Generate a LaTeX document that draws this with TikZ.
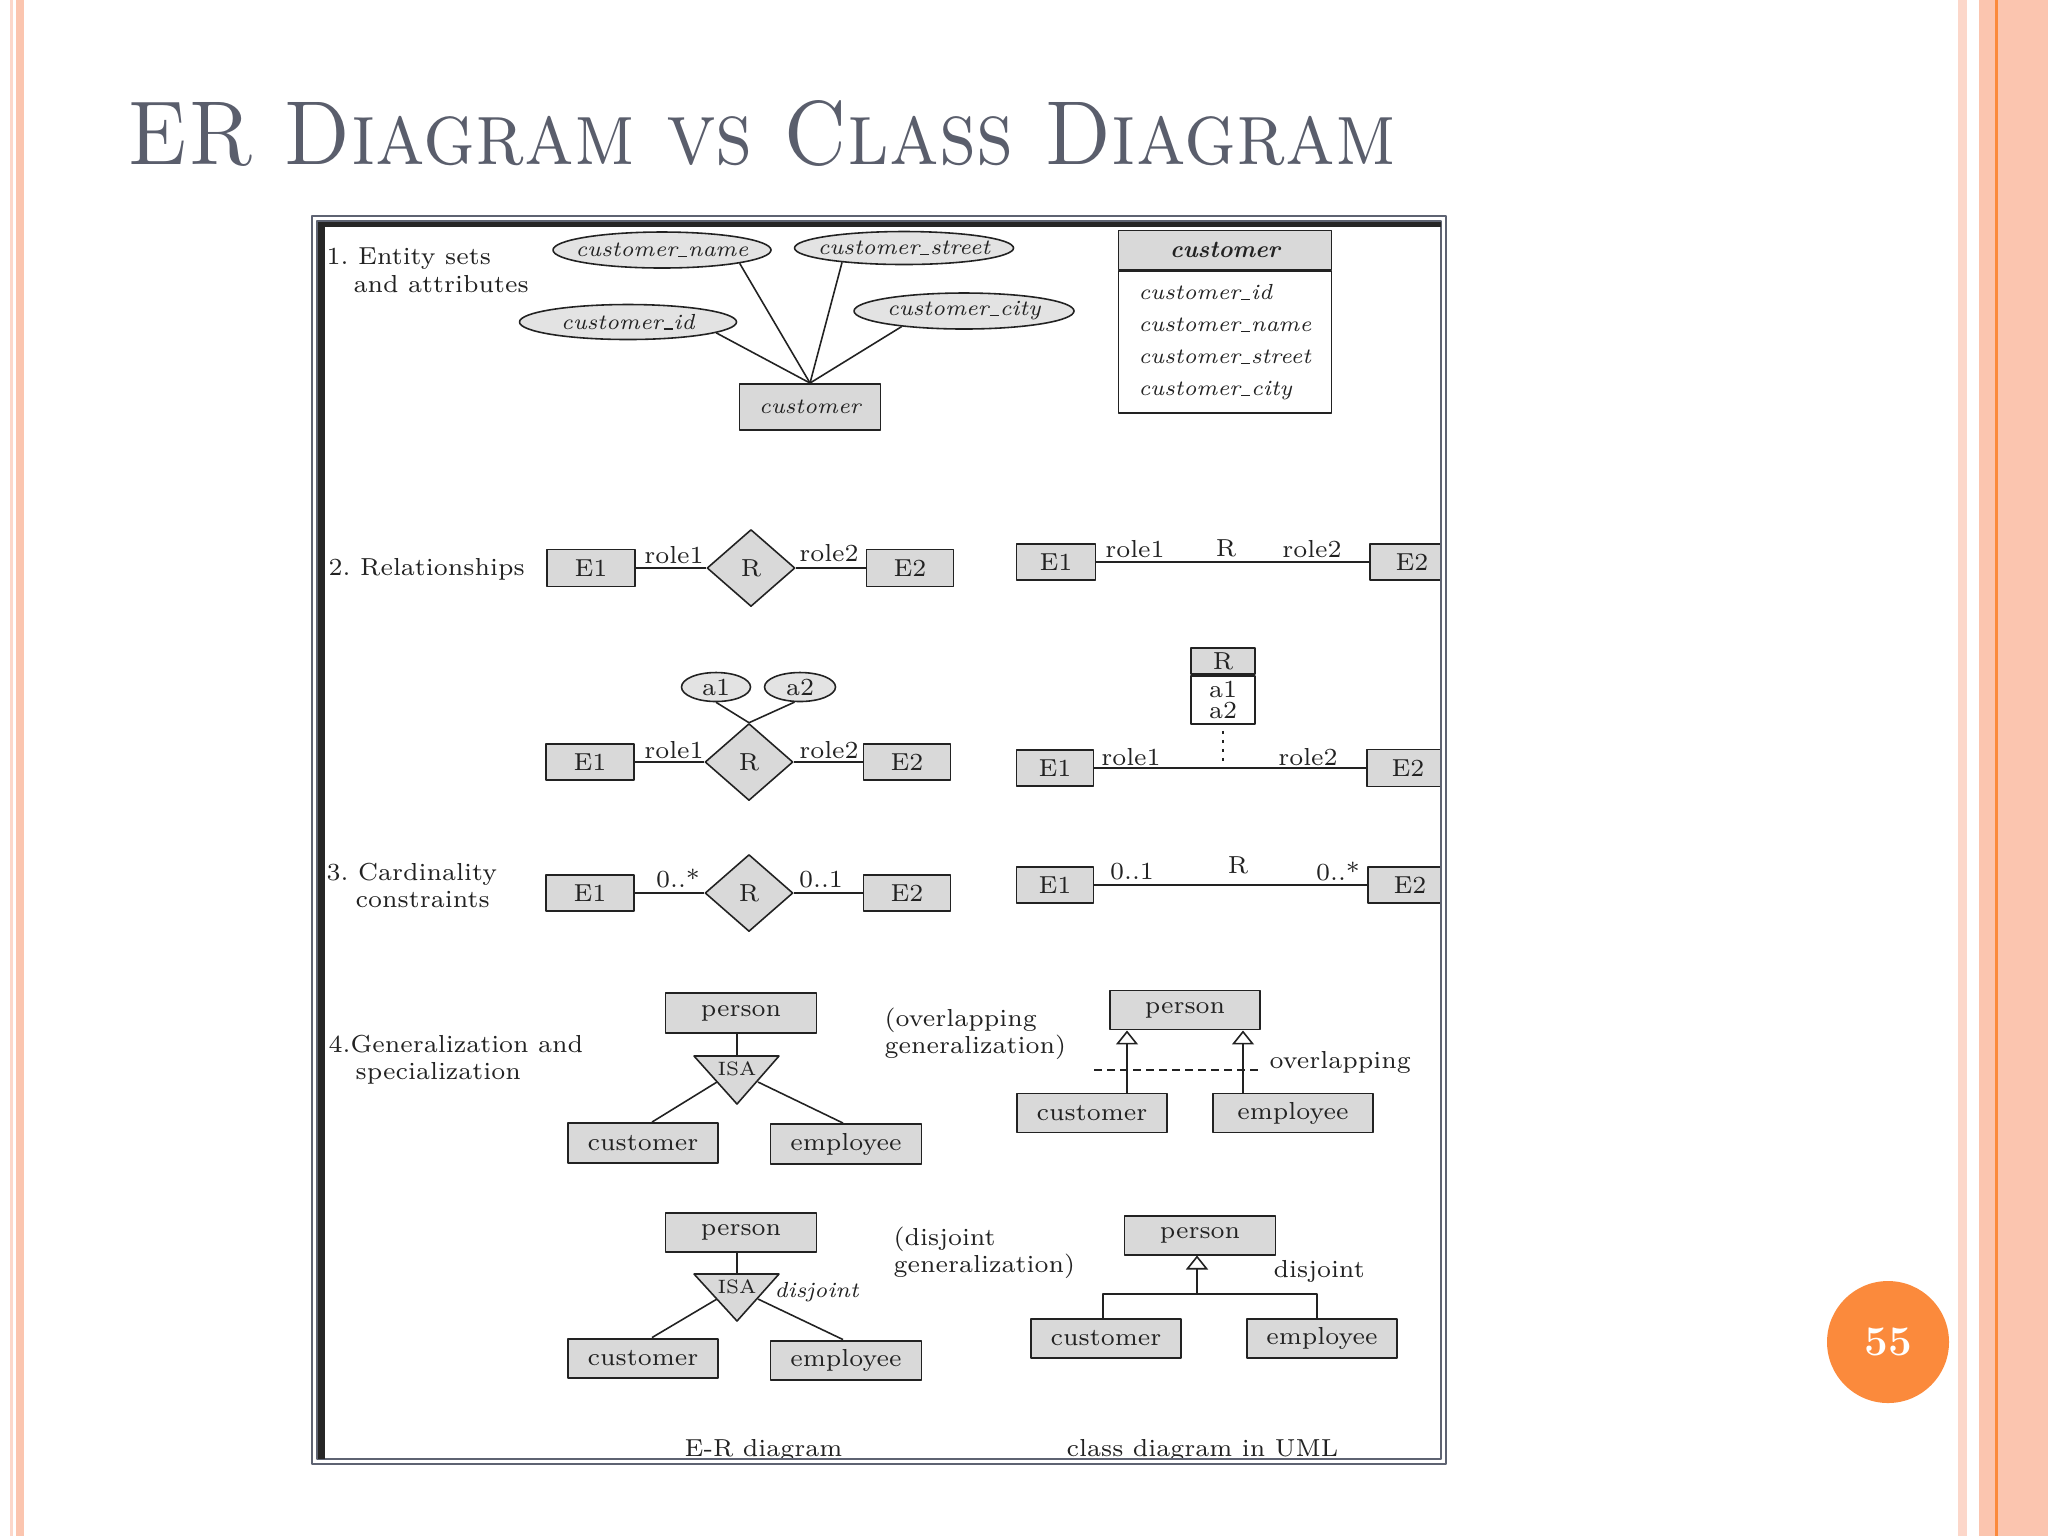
\documentclass[tikz,border=0pt]{standalone}
\usepackage{graphicx}
\usetikzlibrary{shapes.geometric,arrows.meta,positioning}
\newcommand{\figfont}{\fontsize{7.0}{8.4}\selectfont\frenchspacing}
\newcommand{\itfont}{\fontsize{6.2}{7.4}\selectfont\itshape}
\newcommand{\hug}[1]{\makebox[0pt]{#1}}
\newcommand{\us}{\kern0.04em\rule[-0.1pt]{0.42em}{0.4pt}\kern0.04em}
\definecolor{titleink}{HTML}{5A5E6C}
\definecolor{frameink}{HTML}{5E6372}
\definecolor{ink}{HTML}{222222}
\definecolor{boxgray}{HTML}{D9D9D9}
\definecolor{ovalgray}{HTML}{E3E3E3}
\definecolor{salmon}{HTML}{FBC5AF}
\definecolor{salmonlt}{HTML}{FCD7CA}
\definecolor{badge}{HTML}{FB8A3C}

\begin{document}
\begin{tikzpicture}[
  x=0.1mm, y=-0.1mm,
  line join=round,
  edge/.style={draw=ink, line width=0.45pt},
  ent/.style={draw=ink, line width=0.55pt, fill=boxgray, inner sep=0pt,
    font=\figfont, text=ink},
  cls/.style={draw=ink, line width=0.55pt, fill=white, inner sep=0pt, text=ink},
  oval/.style={ellipse, draw=ink, line width=0.45pt, fill=ovalgray, inner sep=0pt,
    font=\itfont, text=ink},
  rel/.style={diamond, draw=ink, line width=0.45pt, fill=boxgray, inner sep=0pt,
    minimum width=8.8mm, minimum height=7.7mm, font=\figfont, text=ink},
  isa/.style={fill=boxgray, draw=ink, line width=0.45pt},
  lbl/.style={font=\figfont, text=ink, inner sep=0pt},
  gen/.style={edge, -{Triangle[open, width=2.2mm, length=1.4mm]}},
  dots/.style={edge, dash pattern=on 0.35mm off 0.55mm},
]

% ── the slide ─────────────────────────────────────────────────────────────
\fill[white] (0,0) rectangle (2048,1536);
\useasboundingbox (0,0) rectangle (2048,1536);
\fill[salmonlt] (10,0) rectangle (13,1536);
\fill[salmon] (16,0) rectangle (24,1536);
\fill[salmonlt] (1958,0) rectangle (1967,1536);
\fill[salmon] (1979,0) rectangle (2048,1536);
\fill[badge] (1995,0) rectangle (1998,1536);

\node[anchor=base west, inner sep=0pt, text=titleink] (title) at (127,164)
  {\resizebox{126.8mm}{6.4mm}{\textsc{ER Diagram vs Class Diagram}}};

\node[circle, fill=badge, minimum size=12.2mm, inner sep=0pt, text=white,
  font=\fontsize{12}{14}\selectfont\bfseries] (pgnum) at (1888,1342) {55};

% ── the figure ────────────────────────────────────────────────────────────
\fill[white] (317,221) rectangle (1441,1459);
\begin{scope}
\clip (317,221) rectangle (1441,1459);

% 1. entity sets and attributes
\node[lbl, anchor=base west] (s1a) at (326,264) {1. Entity sets};
\node[lbl, anchor=base west] (s1b) at (353,292) {and attributes};

\node[oval, minimum width=21.8mm, minimum height=3.6mm] (cname) at (662,250) {\hug{customer\us name}};
\node[oval, minimum width=21.9mm, minimum height=3.3mm] (cstreet) at (904,248) {\hug{customer\us street}};
\node[oval, minimum width=21.7mm, minimum height=3.5mm] (cid) at (628,322) {\hug{customer\us id}};
\node[oval, minimum width=22mm, minimum height=3.6mm] (ccity) at (964,311) {\hug{customer\us city}};
\node[ent, minimum width=14.1mm, minimum height=4.6mm, font=\itfont] (cust) at (810,407) {customer};

\draw[edge] (cname.south east) -- (cust.north);
\draw[edge] (cstreet.193) -- (cust.north);
\draw[edge] (cid.-7) -- (cust.north);
\draw[edge] (ccity.194) -- (cust.north);

\node[ent, minimum width=21.3mm, minimum height=3.9mm,
  font=\fontsize{6.8}{8}\selectfont\bfseries\itshape] (uhead) at (1225,250) {customer};
\node[cls, minimum width=21.3mm, minimum height=14.2mm, below=0pt of uhead, align=left,
  font=\fontsize{6.2}{9.1}\selectfont\itshape] (ubody)
  {customer\us id\\customer\us name\\customer\us street\\customer\us city};

% 2. relationships
\node[lbl, anchor=base west] (s2) at (328,575) {2. Relationships};
\node[ent, minimum width=8.8mm, minimum height=3.7mm] (e1a) at (591,568) {E1};
\node[rel] (ra) at (751,568) {R};
\node[ent, minimum width=8.7mm, minimum height=3.7mm] (e2a) at (910,568) {E2};
\draw[edge] (e1a) -- (ra);
\draw[edge] (ra) -- (e2a);
\node[lbl, anchor=base] (ro1a) at (674,563) {role1};
\node[lbl, anchor=base] (ro2a) at (829,561) {role2};

\node[ent, minimum width=7.9mm, minimum height=3.6mm] (ue1a) at (1056,562) {E1};
\node[ent, minimum width=8.4mm, minimum height=3.6mm] (ue2a) at (1412,562) {E2};
\draw[edge] (ue1a) -- (ue2a);
\node[lbl, anchor=base] (uro1a) at (1135,557) {role1};
\node[lbl, anchor=base] (ura) at (1226,556) {R};
\node[lbl, anchor=base] (uro2a) at (1312,557) {role2};

% relationship with attributes
\node[oval, font=\figfont, minimum width=6.9mm, minimum height=2.9mm] (a1) at (716,687) {a1};
\node[oval, font=\figfont, minimum width=7.1mm, minimum height=2.9mm] (a2) at (800,687) {a2};
\node[ent, minimum width=8.8mm, minimum height=3.6mm] (e1b) at (590,762) {E1};
\node[rel] (rb) at (749,762) {R};
\node[ent, minimum width=8.7mm, minimum height=3.6mm] (e2b) at (907,762) {E2};
\draw[edge] (a1.south) -- (rb.north);
\draw[edge] (a2.250) -- (rb.north);
\draw[edge] (e1b) -- (rb);
\draw[edge] (rb) -- (e2b);
\node[lbl, anchor=base] (ro1b) at (674,758) {role1};
\node[lbl, anchor=base] (ro2b) at (829,758) {role2};

\node[ent, minimum width=6.4mm, minimum height=2.6mm] (rhead) at (1223,661) {R};
\node[cls, minimum width=6.4mm, minimum height=4.8mm, below=0pt of rhead, align=center,
  font=\fontsize{7.0}{6}\selectfont] (rbody) {a1\\a2};
\node[ent, minimum width=7.7mm, minimum height=3.6mm] (ue1b) at (1055,768) {E1};
\node[ent, minimum width=8.2mm, minimum height=3.7mm] (ue2b) at (1408,768) {E2};
\draw[edge] (ue1b) -- (ue2b);
\coordinate (rfoot) at (1223,768);
\draw[dots, shorten <=0.6mm, shorten >=0.5mm] (rbody.south) -- (rfoot);
\node[lbl, anchor=base] (uro1b) at (1131,765) {role1};
\node[lbl, anchor=base] (uro2b) at (1308,765) {role2};

% 3. cardinality constraints
\node[lbl, anchor=base west] (s3a) at (326,880) {3. Cardinality};
\node[lbl, anchor=base west] (s3b) at (355,907) {constraints};
\node[ent, minimum width=8.8mm, minimum height=3.6mm] (e1c) at (590,893) {E1};
\node[rel] (rc) at (749,893) {R};
\node[ent, minimum width=8.7mm, minimum height=3.6mm] (e2c) at (907,893) {E2};
\draw[edge] (e1c) -- (rc);
\draw[edge] (rc) -- (e2c);
\node[lbl, anchor=base] (ca1) at (678,887) {0..*};
\node[lbl, anchor=base] (ca2) at (821,887) {0..1};

\node[ent, minimum width=7.7mm, minimum height=3.6mm] (ue1c) at (1055,885) {E1};
\node[ent, minimum width=8.4mm, minimum height=3.6mm] (ue2c) at (1410,885) {E2};
\draw[edge] (ue1c) -- (ue2c);
\node[lbl, anchor=base] (uca1) at (1132,879) {0..1};
\node[lbl, anchor=base] (urc) at (1238,873) {R};
\node[lbl, anchor=base] (uca2) at (1338,880) {0..*};

% 4. generalization, overlapping
\node[lbl, anchor=base west] (s4a) at (328,1052) {4.Generalization and};
\node[lbl, anchor=base west] (s4b) at (355,1079) {specialization};

\node[ent, minimum width=15.1mm, minimum height=4mm] (per1) at (741,1013) {person};
\coordinate (isa1top) at (737,1056);
\filldraw[isa] (694,1056) -- (779,1056) -- (737,1104) -- cycle;
\node[lbl, font=\fontsize{5.5}{6}\selectfont] (isa1) at (737,1069) {ISA};
\node[ent, minimum width=15mm, minimum height=4mm] (cus1) at (643,1143) {customer};
\node[ent, minimum width=15.1mm, minimum height=4mm] (emp1) at (846,1144) {employee};
\coordinate (isa1l) at (717,1082);
\coordinate (isa1r) at (758,1082);
\draw[edge] (isa1top |- per1.south) -- (isa1top);
\draw[edge] (isa1l) -- ([xshift=0.9mm]cus1.north);
\draw[edge] (isa1r) -- ([xshift=-0.3mm]emp1.north);

\node[lbl, anchor=base west] (ovn1) at (884,1026) {(overlapping};
\node[lbl, anchor=base west] (ovn2) at (884,1053) {generalization)};

\node[ent, minimum width=15mm, minimum height=3.9mm] (uper1) at (1185,1010) {person};
\node[ent, minimum width=15mm, minimum height=3.9mm] (ucus1) at (1092,1113) {customer};
\node[ent, minimum width=16mm, minimum height=3.9mm] (uemp1) at (1293,1113) {employee};
\draw[gen] ([xshift=3.5mm]ucus1.north) -- ([xshift=3.5mm]ucus1.north |- uper1.south);
\draw[gen] ([xshift=-5mm]uemp1.north) -- ([xshift=-5mm]uemp1.north |- uper1.south);
\coordinate (ovl) at (1094,1070);
\coordinate (ovr) at (1262,1070);
\draw[edge, dash pattern=on 0.8mm off 0.5mm] (ovl) -- (ovr);
\node[lbl, anchor=base west] (ovtag) at (1269,1068) {overlapping};

% 4. generalization, disjoint
\node[ent, minimum width=15.1mm, minimum height=3.9mm] (per2) at (741,1232) {person};
\coordinate (isa2top) at (737,1274);
\filldraw[isa] (694,1274) -- (779,1274) -- (737,1321) -- cycle;
\node[lbl, font=\fontsize{5.5}{6}\selectfont] (isa2) at (737,1287) {ISA};
\node[ent, minimum width=15mm, minimum height=3.9mm] (cus2) at (643,1358) {customer};
\node[ent, minimum width=15.1mm, minimum height=3.9mm] (emp2) at (846,1360) {employee};
\coordinate (isa2l) at (717,1299);
\coordinate (isa2r) at (758,1299);
\draw[edge] (isa2top |- per2.south) -- (isa2top);
\draw[edge] (isa2l) -- ([xshift=0.9mm]cus2.north);
\draw[edge] (isa2r) -- ([xshift=-0.3mm]emp2.north);
\node[lbl, anchor=base west, font=\itfont] (djer) at (774,1297) {disjoint};

\node[lbl, anchor=base west] (djn1) at (893,1245) {(disjoint};
\node[lbl, anchor=base west] (djn2) at (893,1272) {generalization)};

\node[ent, minimum width=15.1mm, minimum height=3.9mm] (uper2) at (1200,1235) {person};
\node[ent, minimum width=15mm, minimum height=3.9mm] (ucus2) at (1106,1338) {customer};
\node[ent, minimum width=15mm, minimum height=3.9mm] (uemp2) at (1322,1338) {employee};
\coordinate (busL) at (1103,1294);
\coordinate (busM) at (1197,1294);
\coordinate (busR) at (1317,1294);
\draw[edge] (ucus2.north -| busL) -- (busL) -- (busR) -- (uemp2.north -| busR);
\draw[gen] (busM) -- (busM |- uper2.south);
\node[lbl, anchor=base west] (djtag) at (1273,1277) {disjoint};

% captions, cut by the frame
\node[lbl, anchor=base west] (erlbl) at (684,1456) {E-R diagram};
\node[lbl, anchor=base west] (umllbl) at (1066,1456) {class diagram in UML};
\end{scope}

% ── frame round the figure ────────────────────────────────────────────────
\draw[frameink, line width=0.6pt] (312,216) rectangle (1446,1464);
\draw[frameink, line width=0.6pt] (317,221) rectangle (1441,1459);
\fill[black!85] (318,222) rectangle (325,1459);
\fill[black!85] (318,222) rectangle (1441,227);

\end{tikzpicture}
\end{document}
